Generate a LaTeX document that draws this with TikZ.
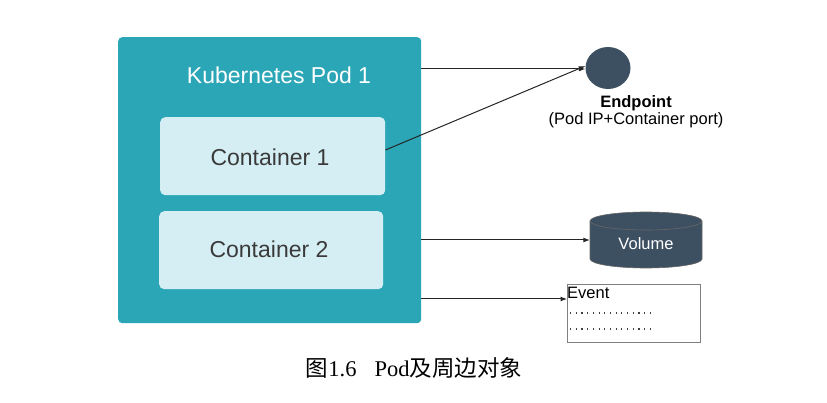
\documentclass[tikz,border=0pt]{standalone}
\usepackage{fontspec}
\setmainfont{Liberation Sans}
\newfontfamily\capfont{Liberation Serif}
\newfontfamily\cjk{Noto Sans CJK SC}
\usetikzlibrary{shapes.geometric,arrows.meta}
\definecolor{podteal}{HTML}{2BA6B7}
\definecolor{contlight}{HTML}{D5EEF3}
\definecolor{slate}{HTML}{3D5062}
\definecolor{conttext}{HTML}{3A3A3A}
\tikzset{
  pod/.style={draw=none,fill=podteal,rounded corners=4pt},
  cont/.style={draw=none,fill=contlight,rounded corners=5pt},
  big/.style={font=\fontsize{23}{26}\selectfont},
  mid/.style={font=\fontsize{16.5}{19}\selectfont},
  conn/.style={draw=black!85,line width=1pt,-{Latex[length=6.5pt,width=5pt]}},
  dots/.style={black!75,line width=1.1pt,dash pattern=on 1.1pt off 4.6pt},
}
\begin{document}
\begin{tikzpicture}[x=1pt,y=-1pt]
\useasboundingbox (0,0) rectangle (827,403);
% Pod
\node[pod,minimum width=303pt,minimum height=286pt,anchor=north west] (pod) at (118,37) {};
\node[text=white,big] (podlbl) at (279,75) {Kubernetes Pod 1};
\node[cont,minimum width=225pt,minimum height=78pt,anchor=north west] (c1) at (160,117) {};
\node[text=conttext,big] (c1t) at (270,157) {Container 1};
\node[cont,minimum width=224pt,minimum height=78pt,anchor=north west] (c2) at (159,211) {};
\node[text=conttext,big] (c2t) at (269,249) {Container 2};
% Endpoint
\node[ellipse,fill=slate,minimum width=45pt,minimum height=42pt,inner sep=0pt] (ep) at (608,68) {};
\node[font=\bfseries\fontsize{16.5}{19}\selectfont] (eplbl) at (636,103) {Endpoint};
\node[mid] (epsub) at (636,120) {(Pod IP+Container port)};
% Volume (cylinder drawn directly)
\node[minimum width=112pt,minimum height=56pt,inner sep=0pt] (vol) at (646,240) {};
\fill[slate] (590,221) -- (590,259) arc[start angle=180,end angle=0,x radius=56,y radius=9] -- (702,221) arc[start angle=0,end angle=-180,x radius=56,y radius=9] -- cycle;
\draw[black!60,line width=0.6pt] (590,221) -- (590,259) arc[start angle=180,end angle=0,x radius=56,y radius=9] -- (702,221);
\draw[black!60,line width=0.6pt] (646,221) ellipse[x radius=56,y radius=9];
\node[text=white,mid] (voltxt) at (646,244) {Volume};
% Event
\node[draw=black!50,line width=0.6pt,minimum width=133pt,minimum height=58pt,anchor=north west,inner sep=0pt] (ev) at (567,284) {};
\node[anchor=west,mid,inner sep=0pt] (evt) at (567,293) {Event};
\coordinate (d1a) at (570,313); \coordinate (d1b) at (650,313);
\coordinate (d2a) at (570,329); \coordinate (d2b) at (650,329);
\draw[dots] (d1a) -- (d1b);
\draw[dots] (d2a) -- (d2b);
% Connectors
\draw[conn] (pod.east |- 0,69) -- (ep.west |- 0,69);
\draw[conn] (c1.east |- 0,150) -- ([yshift=2pt]ep.west);
\draw[conn] (pod.east |- 0,240) -- (vol.west |- 0,240);
\draw[conn] (pod.east |- 0,299) -- (ev.west |- 0,299);
% Caption
\node[font=\fontsize{22.5}{26}\selectfont] (cap) at (414,368) {{\cjk 图}{\capfont 1.6}\hspace{18pt}{\capfont Pod}{\cjk 及周边对象}};
\end{tikzpicture}
\end{document}
